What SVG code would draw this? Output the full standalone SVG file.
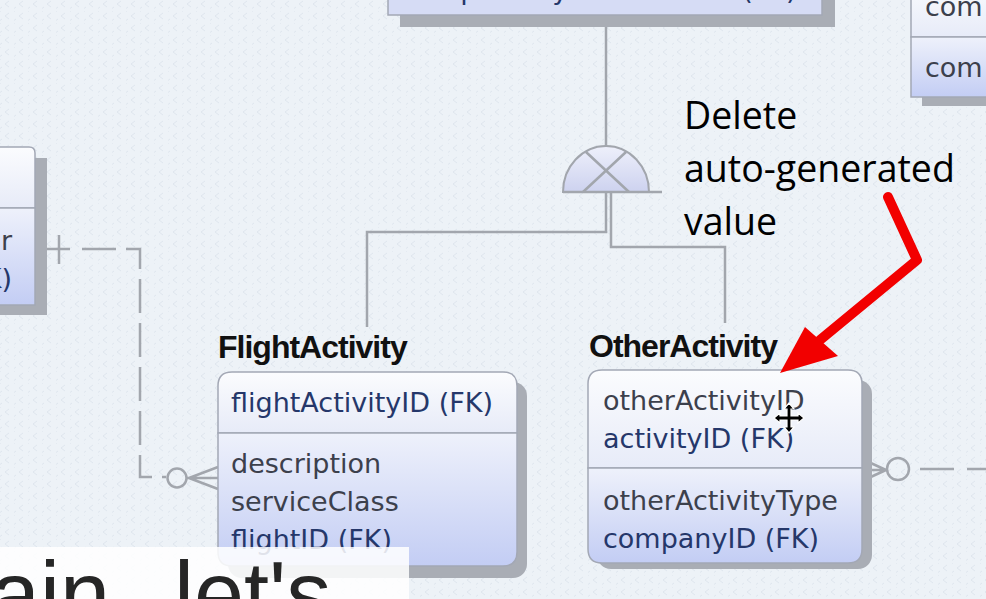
<svg xmlns="http://www.w3.org/2000/svg" width="986" height="599" viewBox="0 0 986 599">
<defs>
<pattern id="bgpat" width="14" height="12" patternUnits="userSpaceOnUse">
<rect width="14" height="12" fill="#edf2f7"/>
<path d="M9 1 L5 4 L9 7" fill="none" stroke="#dfe6ee" stroke-width="1"/>
<path d="M2 7 L-2 10 L2 13" fill="none" stroke="#dfe6ee" stroke-width="1"/>
</pattern>
<linearGradient id="gKey" x1="0" y1="0" x2="0" y2="1">
<stop offset="0" stop-color="#fbfcfe"/><stop offset="1" stop-color="#e7ebf8"/>
</linearGradient>
<linearGradient id="gAttr" x1="0" y1="0" x2="0" y2="1">
<stop offset="0" stop-color="#eef1fb"/><stop offset="1" stop-color="#c3cdf4"/>
</linearGradient>
<linearGradient id="gSym" x1="0" y1="0" x2="0" y2="1">
<stop offset="0" stop-color="#eef0fb"/><stop offset="1" stop-color="#cdd2ef"/>
</linearGradient>
<style>
.box{stroke:#a3a8b5;stroke-width:1.5}
.shadow{fill:#a9adb5}
.conn{fill:none;stroke:#a2a6ad;stroke-width:2.5}
.dash{stroke-dasharray:34 10}
.attr{font-family:"DejaVu Sans",Verdana,sans-serif;font-size:27px;fill:#3c404c}
.fk{font-family:"DejaVu Sans",Verdana,sans-serif;font-size:27px;fill:#25376a}
.label{font-family:"Liberation Sans",Arial,sans-serif;font-weight:bold;font-size:32px;letter-spacing:-1px;fill:#111}
.note{font-family:"Open Sans","Liberation Sans",sans-serif;font-size:37.5px;fill:#000}
.cap{font-family:"Liberation Sans",Arial,sans-serif;font-size:90px;fill:#262626}
</style>
</defs>

<rect width="986" height="599" fill="url(#bgpat)"/>

<g id="connectors">
<path class="conn" d="M35 249 H70 M59 235 V264"/>
<path class="conn dash" d="M82 249 H140 V477 H166"/>
<circle class="conn" cx="177" cy="478" r="9.5"/>
<path class="conn" d="M187 478 H218 M189 478 L218 467 M189 478 L218 489"/>
<path class="conn" d="M606 15 V148"/>
<path d="M563 192 A43 46 0 0 1 649 192 Z" fill="url(#gSym)" stroke="#a2a6ad" stroke-width="2"/>
<path class="conn" d="M586 152 L629 192 M626 152 L583 192" stroke-width="1.8"/>
<path class="conn" d="M563 192 H662"/>
<path class="conn" d="M606 192 V232 H367 V327"/>
<path class="conn" d="M611 192 V247 H725 V323"/>
<path class="conn" d="M862 470 H887 M862 459 L886 470 M862 481 L886 470"/>
<circle class="conn" cx="898" cy="469" r="11"/>
<path class="conn" d="M920 469 H986" style="stroke-dasharray:34 13"/>
</g>

<g id="node-top">
<rect class="shadow" x="400" y="0" width="435" height="27"/>
<rect class="box" x="388" y="-20" width="434" height="35" fill="#d6dcf5"/>
<text class="fk" x="414" y="-1">frequentFlyerAccountID (FK)</text>
</g>

<g id="node-topright">
<rect class="shadow" x="922" y="0" width="70" height="106"/>
<rect class="box" x="911" y="-20" width="90" height="57" fill="url(#gKey)"/>
<rect class="box" x="911" y="37" width="90" height="60" fill="url(#gAttr)"/>
<text class="attr" x="925" y="16">com</text>
<text class="attr" x="925" y="77">com</text>
</g>

<g id="node-left">
<rect class="shadow" x="0" y="158" width="47" height="157"/>
<path class="box" d="M-5 147 H29 Q35 147 35 153 V208 H-5 Z" fill="url(#gKey)"/>
<rect class="box" x="-5" y="208" width="40" height="97" fill="url(#gAttr)"/>
<text class="attr" x="12" y="250" text-anchor="end">r</text>
<text class="fk" x="12" y="288" text-anchor="end">K)</text>
</g>

<g id="node-flightactivity">
<text class="label" x="218" y="358">FlightActivity</text>
<rect class="shadow" x="228" y="382" width="299" height="196" rx="14"/>
<path class="box" d="M218 433 V386 Q218 372 232 372 H503 Q517 372 517 386 V433 Z" fill="url(#gKey)"/>
<path class="box" d="M218 433 H517 V552 Q517 566 503 566 H232 Q218 566 218 552 Z" fill="url(#gAttr)"/>
<text class="fk" x="231" y="412">flightActivityID (FK)</text>
<text class="attr" x="231" y="473">description</text>
<text class="attr" x="231" y="511">serviceClass</text>
<text class="fk" x="231" y="549">flightID (FK)</text>
</g>

<g id="node-otheractivity">
<text class="label" x="589" y="357">OtherActivity</text>
<rect class="shadow" x="597" y="380" width="275" height="189" rx="14"/>
<path class="box" d="M588 468 V384 Q588 370 602 370 H848 Q862 370 862 384 V468 Z" fill="url(#gKey)"/>
<path class="box" d="M588 468 H862 V549 Q862 563 848 563 H602 Q588 563 588 549 Z" fill="url(#gAttr)"/>
<text class="attr" x="603" y="410">otherActivityID</text>
<text class="fk" x="603" y="448">activityID (FK)</text>
<text class="attr" x="603" y="510">otherActivityType</text>
<text class="fk" x="603" y="548">companyID (FK)</text>
</g>

<g id="cursor">
<path d="M789 403 l5 6 h-3 v7 h7 v-3 l6 5 -6 5 v-3 h-7 v7 h3 l-5 6 -5 -6 h3 v-7 h-7 v3 l-6 -5 6 -5 v3 h7 v-7 h-3 z" fill="#000" stroke="#fff" stroke-width="1.2"/>
</g>

<g id="annotation">
<text class="note" x="684" y="129">Delete</text>
<text class="note" x="684" y="182">auto-generated</text>
<text class="note" x="684" y="235">value</text>
<polyline points="888,197 917,260 820,340" fill="none" stroke="#f20000" stroke-width="10" stroke-linecap="round" stroke-linejoin="round"/>
<polygon points="780,373 805,327 838,356" fill="#f20000"/>
</g>

<g id="caption">
<rect x="0" y="547" width="409" height="52" fill="#ffffff" fill-opacity="0.86"/>
<text class="cap" x="-10" y="625">ain,</text>
<text class="cap" x="174" y="625">let's</text>
</g>
</svg>
